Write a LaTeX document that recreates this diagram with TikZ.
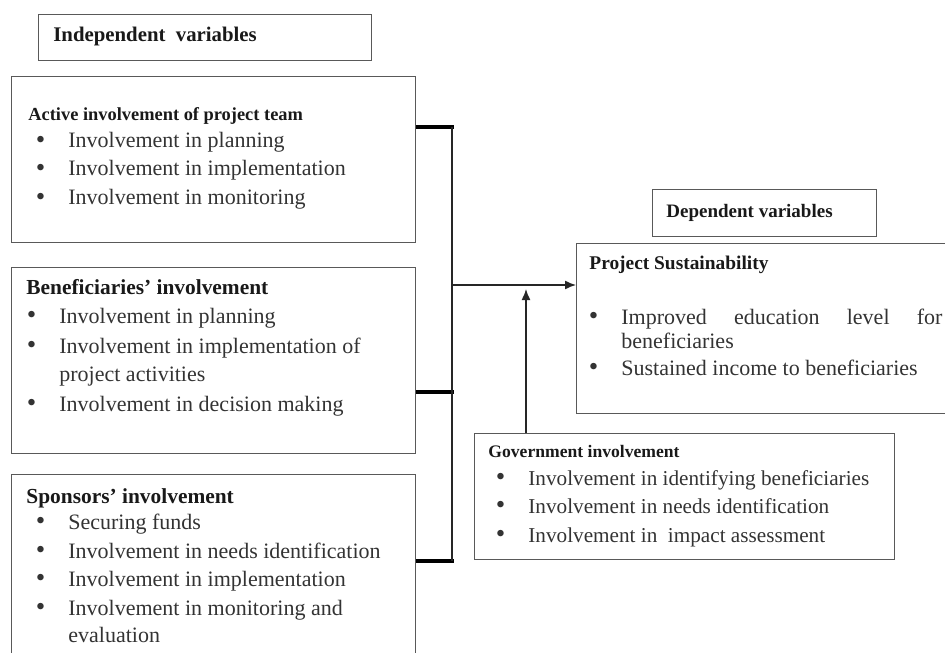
\documentclass[tikz,border=0pt]{standalone}
\usepackage{fontspec}
\setmainfont{Liberation Serif}
\usetikzlibrary{arrows.meta,calc}
\tikzset{
  box/.style={draw=black!65, line width=0.7pt, inner sep=0, anchor=north west},
  head/.style={anchor=base west, inner sep=0, text=black!90,
    font=\bfseries\fontsize{#1}{#1}\selectfont},
  head/.default=10,
  item/.style={anchor=base west, inner sep=0, text=black!80,
    font=\fontsize{#1}{13}\selectfont},
  item/.default=11,
  bus/.style={line width=2.2pt},
  link/.style={line width=0.7pt, black!85},
}
\newcommand\bul{\llap{\raisebox{-0.4pt}{\fontsize{13.5}{13.5}\selectfont\textbullet}\hspace{11.5pt}}}

\begin{document}
\begin{tikzpicture}[x=0.5pt, y=-0.5pt]
    \useasboundingbox (0,0) rectangle (945,652);
    \clip (0,0) rectangle (945,652);

    % boxes
    \node [box, minimum width=166.5pt, minimum height=23pt] (indep) at (38,14) {};
    \node [box, minimum width=202pt, minimum height=83pt] (act) at (11,76) {};
    \node [box, minimum width=202pt, minimum height=93pt] (ben) at (11,267) {};
    \node [box, minimum width=202pt, minimum height=98pt] (spo) at (11,474) {};
    \node [box, minimum width=112pt, minimum height=23.5pt] (dep) at (652,189) {};
    \node [box, minimum width=189.5pt, minimum height=85pt] (sus) at (576,243) {};
    \node [box, minimum width=210pt, minimum height=63pt] (gov) at (474,433) {};

    % headings
    \node [head=10.4] (indep-t) at (53,42) {Independent\ \ variables};
    \node [head=9.2] (act-t) at (28,121) {Active involvement of project team};
    \node [head=10.7] (ben-t) at (26,294) {Beneficiaries' involvement};
    \node [head=10.7] (spo-t) at (26,503) {Sponsors'\ involvement};
    \node [head=9.5] (dep-t) at (666,217) {Dependent variables};
    \node [head=9.7] (sus-t) at (589,269) {Project Sustainability};
    \node [head=8.8] (gov-t) at (488,457) {Government involvement};

    % bullet lists
    \foreach \y/\t [count=\i] in {148/Involvement in planning,
        176/Involvement in implementation, 205/Involvement in monitoring}
      \node [item] (act-\i) at (68,\y) {\bul\t};
    \node [item] (ben-1) at (59,323) {\bul Involvement in planning};
    \node [item] (ben-2) at (59,353) {\bul Involvement in implementation of};
    \node [item] (ben-2b) at (59,381) {project activities};
    \node [item] (ben-3) at (59,411) {\bul Involvement in decision making};
    \foreach \y/\t [count=\i] in {529/Securing funds,
        558/Involvement in needs identification,
        586/Involvement in implementation,
        615/Involvement in monitoring and}
      \node [item] (spo-\i) at (68,\y) {\bul\t};
    \node [item] (spo-4b) at (68,642) {evaluation};
    \node [item] (sus-1) at (621,324)
      {\bul\makebox[160.5pt][s]{Improved education level for}};
    \node [item] (sus-1b) at (621,348) {beneficiaries};
    \node [item] (sus-2) at (621,375) {\bul Sustained income to beneficiaries};
    \foreach \y/\t [count=\i] in {485/Involvement in identifying beneficiaries,
        513/Involvement in needs identification,
        542/Involvement in\ \ impact assessment}
      \node [item=10.6] (gov-\i) at (528,\y) {\bul\t};

    % connectors
    \coordinate (j1) at (452,127);
    \coordinate (j2) at (452,392);
    \coordinate (j3) at (452,561);
    \coordinate (hub) at (452,285);
    \coordinate (tap) at (526,289);
    \draw [bus] (act.east |- j1) -- ($(j1)+(2,0)$);
    \draw [bus] (ben.east |- j2) -- ($(j2)+(2,0)$);
    \draw [bus] (spo.east |- j3) -- ($(j3)+(2,0)$);
    \draw [link] (j1) -- (j3);
    \draw [link,-{Latex[length=5.5pt,width=4.5pt]}] (hub) -- (sus.west |- hub);
    \draw [link,-{Latex[length=5.5pt,width=4.5pt]}] (gov.north -| tap) -- (tap);
\end{tikzpicture}
\end{document}
